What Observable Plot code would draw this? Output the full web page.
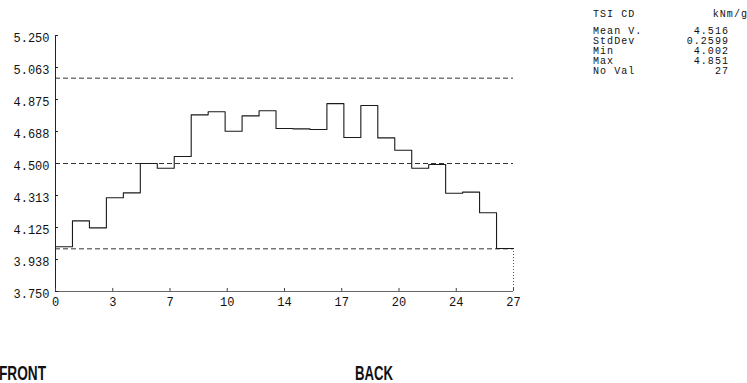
<!DOCTYPE html>
<html>
<head>
<meta charset="utf-8">
<script src="https://cdn.jsdelivr.net/npm/d3@7"></script>
<script src="https://cdn.jsdelivr.net/npm/@observablehq/plot@0.6"></script>
<style>
  html, body { margin: 0; padding: 0; background: #fff; }
  #root { position: relative; width: 747px; height: 383px; overflow: hidden; background: #fff; }
  #chart { position: absolute; left: 0; top: 0; }
  .mono { position: absolute; font-family: "Liberation Mono", "DejaVu Sans Mono", monospace; font-size: 10px; letter-spacing: 1.05px; line-height: 10px; height: 10px; color: #111; white-space: pre; }
</style>
</head>
<body>
<div id="root">
  <div id="chart"></div>
  <div id="stats"></div>
  <svg id="labels" width="747" height="383" style="position:absolute;left:0;top:0;pointer-events:none"></svg>
</div>
<script>
// Profile values (27 positions, front to back)
const positions = d3.range(27);
const values = [4.012, 4.164, 4.123, 4.299, 4.328, 4.500, 4.472, 4.541, 4.785, 4.803,
                4.689, 4.779, 4.809, 4.705, 4.703, 4.699, 4.851, 4.652, 4.840, 4.650,
                4.578, 4.472, 4.494, 4.326, 4.332, 4.211, 4.002];
const limitLines = [4.0, 4.5, 5.0];

const xTickValues = [0, 3.375, 6.75, 10.125, 13.5, 16.875, 20.25, 23.625, 27];
const xTickLabels = ["0", "3", "7", "10", "14", "17", "20", "24", "27"];
const yTickValues = [3.75, 3.9375, 4.125, 4.3125, 4.5, 4.6875, 4.875, 5.0625, 5.25];
const yTickLabels = ["3.750", "3.938", "4.125", "4.313", "4.500", "4.688", "4.875", "5.063", "5.250"];

const statTitle = "TSI CD";
const statUnit = "kNm/g";
const statNames = ["Mean V.", "StdDev", "Min", "Max", "No Val"];
const statValues = ["4.516", "0.2599", "4.002", "4.851", "27"];

const sideLabels = ["FRONT", "BACK"];

// step data: each value spans [i, i+1]
const stepData = positions.map((p, i) => ({x: p, y: values[i]}));
stepData.push({x: positions.length, y: values[values.length - 1]});
const xMax = positions.length;
const yMin = yTickValues[0], yMax = yTickValues[yTickValues.length - 1];

const chart = Plot.plot({
  width: 530,
  height: 315,
  marginLeft: 55,
  marginRight: 17,
  marginTop: 35,
  marginBottom: 24,
  style: {fontFamily: "Liberation Mono, DejaVu Sans Mono, monospace", fontSize: "12px", color: "#111", background: "transparent"},
  x: {domain: [0, xMax]},
  y: {domain: [yMin, yMax]},
  marks: [
    Plot.ruleY(limitLines, {x1: 0, x2: xMax, stroke: "#333", strokeWidth: 1, strokeDasharray: "5,3"}),
    Plot.ruleX([0], {y1: yMin, y2: yMax, stroke: "#222", strokeWidth: 1}),
    Plot.ruleY([yMin], {x1: 0, x2: xMax, stroke: "#666", strokeWidth: 1}),
    Plot.ruleY(yTickValues, {x1: 0, x2: 0.18, stroke: "#222"}),
    Plot.ruleX(xTickValues, {y1: yMin, y2: yMin + 0.018, stroke: "#444"}),
    Plot.ruleX([xMax], {y1: values[values.length - 1], y2: yMin, stroke: "#555", strokeDasharray: "1,2"}),
    Plot.line(stepData, {x: "x", y: "y", curve: "step-after", stroke: "#1a1a1a", strokeWidth: 1.1}),
    Plot.axisX({ticks: xTickValues, tickFormat: (d, i) => xTickLabels[i], tickSize: 0, tickPadding: 6, label: null}),
    Plot.axisY({ticks: yTickValues, tickFormat: (d, i) => yTickLabels[i], tickSize: 0, tickPadding: 6, dy: 3, label: null})
  ]
});
document.getElementById("chart").appendChild(chart);

// stats block
const stats = document.getElementById("stats");
function addText(txt, style) {
  const d = document.createElement("div");
  d.className = "mono";
  d.textContent = txt;
  Object.assign(d.style, style);
  stats.appendChild(d);
}
addText(statTitle, {left: "593px", top: "10px"});
addText(statUnit, {left: "647px", width: "101px", top: "10px", textAlign: "right"});
statNames.forEach((n, i) => {
  const top = (27 + i * 10.1) + "px";
  addText(n, {left: "593px", top});
  addText(statValues[i], {left: "629px", width: "100px", top, textAlign: "right"});
});

// FRONT / BACK labels
const svg = d3.select("#labels");
const sideX = [-1, 355];
const sideW = [47, 38];
sideLabels.forEach((t, i) => {
  svg.append("text")
    .attr("x", sideX[i]).attr("y", 380)
    .attr("textLength", sideW[i]).attr("lengthAdjust", "spacingAndGlyphs")
    .attr("font-family", "Liberation Sans, Arial, sans-serif")
    .attr("font-weight", "bold").attr("font-size", 19.5)
    .attr("fill", "#111")
    .text(t);
});
</script>
</body>
</html>
